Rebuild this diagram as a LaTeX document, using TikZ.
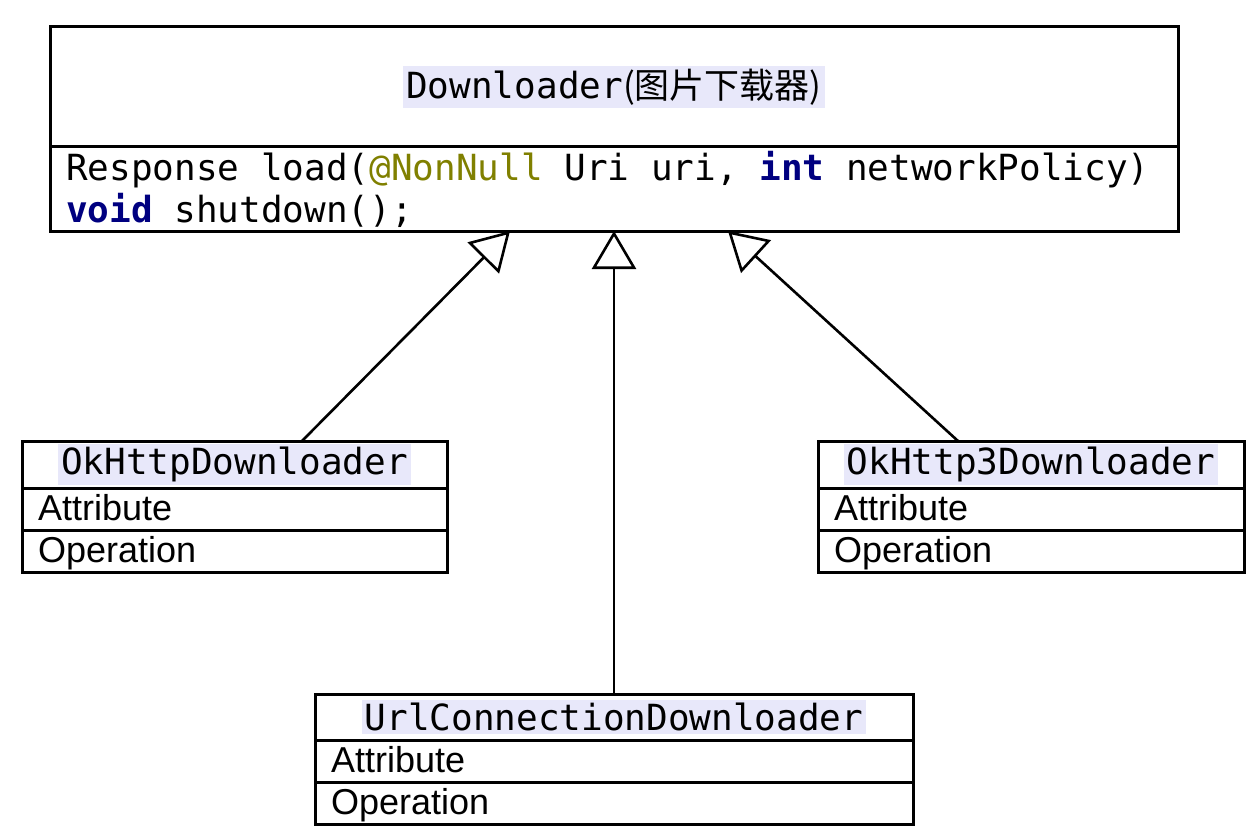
\documentclass[tikz,border=0pt]{standalone}
\usepackage{fontspec}
\setmainfont{Liberation Sans}
\setmonofont{DejaVu Sans Mono}
\newfontfamily\cjk{Noto Sans CJK SC}
\usepackage{tikz}
\usetikzlibrary{
  arrows.meta,
  calc,
  positioning
}
\definecolor{hilite}{RGB}{232,232,250}
\definecolor{kwnavy}{RGB}{0,0,128}
\definecolor{annolive}{RGB}{128,128,0}
\tikzset{
  headbox/.style={draw=black,line width=3pt,rectangle,inner sep=0pt,
    outer sep=0pt,align=center,font=\fontsize{36pt}{42pt}\ttfamily},
  codebox/.style={draw=black,line width=3pt,rectangle,inner xsep=16pt,
    inner ysep=0pt,outer sep=0pt,align=left,
    font=\fontsize{36pt}{42pt}\ttfamily},
  rowbox/.style={draw=black,line width=3pt,rectangle,inner xsep=16pt,
    inner ysep=0pt,outer sep=0pt,align=left,minimum height=42pt,
    text height=32pt,text depth=10pt,
    font=\fontsize{36pt}{42pt}\selectfont},
  realize/.style={-{Triangle[open,length=38pt,width=44pt]},
    line width=2.6pt,draw=black}
}
\newcommand{\clsname}[1]{{\setlength{\fboxsep}{3pt}\colorbox{hilite}{#1}}}
\newcommand{\kwd}[1]{\textcolor{kwnavy}{\textbf{#1}}}
\newcommand{\annot}[1]{\textcolor{annolive}{#1}}
\newcommand{\fixedspaces}{\spaceskip=0.602em\relax}

\begin{document}
\begin{tikzpicture}[x=1pt,y=-1pt]
  \useasboundingbox (0,0) rectangle (1258,840);

  \node[headbox,minimum width=1128pt,minimum height=120pt] (downloader)
      at (614,87) {\clsname{Downloader{\cjk\fontsize{35pt}{40pt}\selectfont(图片下载器)}}};
  \node[codebox,below=0pt of downloader,text width=1096pt,
      minimum height=84pt] (dlops) {\fixedspaces
    Response load(\annot{@NonNull} Uri uri, \kwd{int} networkPolicy)\\
    \kwd{void} shutdown();};

  \node[headbox,minimum width=425pt,minimum height=47pt] (okhttp)
      at (234.5,464.5) {\clsname{OkHttpDownloader}};
  \node[rowbox,below=0pt of okhttp,text width=393pt] (okhttpattr) {Attribute};
  \node[rowbox,below=0pt of okhttpattr,text width=393pt] (okhttpop) {Operation};

  \node[headbox,minimum width=426pt,minimum height=47pt] (okhttp3)
      at (1031,464.5) {\clsname{OkHttp3Downloader}};
  \node[rowbox,below=0pt of okhttp3,text width=394pt] (okhttp3attr) {Attribute};
  \node[rowbox,below=0pt of okhttp3attr,text width=394pt] (okhttp3op) {Operation};

  \node[headbox,minimum width=598pt,minimum height=46pt] (urlconn)
      at (614,717) {\clsname{UrlConnectionDownloader}};
  \node[rowbox,below=0pt of urlconn,text width=566pt] (urlconnattr) {Attribute};
  \node[rowbox,below=0pt of urlconnattr,text width=566pt] (urlconnop) {Operation};

  \coordinate (upL) at ($(dlops.south)+(-104,0)$);
  \coordinate (upR) at ($(dlops.south)+(114,0)$);
  \draw[realize] ($(okhttp.north)+(67.5,0)$) -- (upL);
  \draw[realize] (urlconn.north) -- (dlops.south);
  \draw[realize] ($(okhttp3.north)+(-73,0)$) -- (upR);
\end{tikzpicture}
\end{document}
